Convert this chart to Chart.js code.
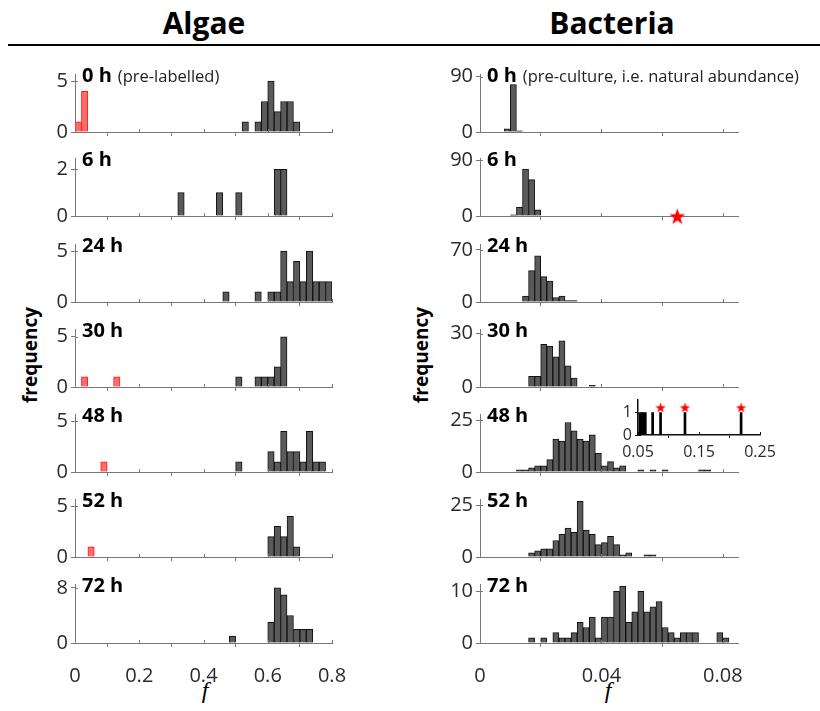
<!DOCTYPE html>
<html>
<head>
<meta charset="utf-8">
<script src="https://cdn.jsdelivr.net/npm/chart.js@4"></script>
<style>
  body { margin:0; width:820px; height:711px; position:relative; overflow:hidden; background:#fff; font-family:'Open Sans', sans-serif; }
  canvas { position:absolute; }
  .txt { position:absolute; transform:translate(-50%,-50%); white-space:nowrap; color:#000; }
</style>
</head>
<body>
<div class="txt" style="left:204px;top:22px;font:bold 30px 'Open Sans';">Algae</div>
<div class="txt" style="left:612px;top:22px;font:bold 30px 'Open Sans';">Bacteria</div>
<div style="position:absolute;left:8px;top:44px;width:812px;height:2px;background:#000;"></div>
<div class="txt" style="left:30px;top:355px;font:bold 19px 'Open Sans';transform:translate(-50%,-50%) rotate(-90deg);">frequency</div>
<div class="txt" style="left:421px;top:355px;font:bold 19px 'Open Sans';transform:translate(-50%,-50%) rotate(-90deg);">frequency</div>
<div class="txt" style="left:205px;top:690px;font:italic 24px 'Liberation Serif';">f</div>
<div class="txt" style="left:608px;top:690px;font:italic 24px 'Liberation Serif';">f</div>
<script>
// ---- data ----
const hours = ['0 h', '6 h', '24 h', '30 h', '48 h', '52 h', '72 h'];
const algaeNotes = ['(pre-labelled)', '', '', '', '', '', ''];
const bacteriaNotes = ['(pre-culture, i.e. natural abundance)', '', '', '', '', '', ''];

// algae: bin width 0.02, counts start at the given bin edge
const algaeBin = 0.02;
const algaeGrayStart = [0.52, 0.32, 0.46, 0.50, 0.50, 0.60, 0.48];
const algaeGrayCounts = [
  [1,0,1,3,5,2,3,3,1],
  [1,0,0,0,0,0,1,0,0,1,0,0,0,0,0,2,2],
  [1,0,0,0,0,1,0,1,1,5,2,4,2,5,2,2,2],
  [1,0,0,1,1,1,2,5],
  [1,0,0,0,0,2,1,4,2,2,1,4,1,1],
  [2,3,2,4,1],
  [1,0,0,0,0,0,3,8,7,4,2,2,2]
];
const algaeRedStart = [0, 0, 0, 0.02, 0.08, 0.04, 0];
const algaeRedCounts = [[1,4], [], [], [1,0,0,0,0,1], [1], [1], []];
const algaeTopTick = [5, 2, 5, 5, 5, 5, 8];
const algaeYMax = [5.7, 2.48, 5.69, 5.77, 5.69, 5.69, 8.57];
const algaeTicks = [0, 0.2, 0.4, 0.6, 0.8];
const algaeTickLabels = ['0', '0.2', '0.4', '0.6', '0.8'];

// bacteria: bin width 0.002
const bacteriaBin = 0.002;
const bacteriaStart = [0.008, 0.010, 0.014, 0.016, 0.012, 0.016, 0.016];
const bacteriaCounts = [
  [5,77,2],
  [2,14,76,59,10],
  [8,42,62,34,28,6,8,2,2],
  [6,6,24,23,17,26,12,5,0,0,1],
  [1,1,2,3,3,6,16,15,24,20,16,15,18,9,3,5,2,3,0,0,1,0,1,0,1,0,0,0,0,0,1,1],
  [2,3,4,4,8,11,14,12,27,13,11,6,7,10,6,1,2,0,0,1,1],
  [1,0,1,0,2,1,1,2,4,3,5,1,5,5,10,11,4,6,10,6,7,8,3,2,1,2,2,2,0,0,0,2,1]
];
const bacteriaStars = [[], [0.065], [], [], [], [], []];
const bacteriaTopTick = [90, 90, 70, 30, 25, 25, 10];
const bacteriaYMax = [94.2, 94, 77.8, 32.7, 28.1, 28.1, 11.4];
const bacteriaTicks = [0, 0.04, 0.08];
const bacteriaTickLabels = ['0', '0.04', '0.08'];

// inset in the 48 h bacteria panel
const insetX = [0.053, 0.056, 0.059, 0.062, 0.074, 0.087, 0.127, 0.219];
const insetCounts = [1, 1, 1, 1, 1, 1, 1, 1];
const insetStarX = [0.087, 0.127, 0.219];
const insetTicks = [0.05, 0.15, 0.25];
const insetTickLabels = ['0.05', '0.15', '0.25'];

// ---- layout ----
const panelBase = [133, 217, 303, 388, 473, 558, 643];
const plotH = 60, padTop = 14;
const axisGray = '#777';
const tickFont = { family: "'Open Sans', sans-serif", size: 20 };

Chart.defaults.font.family = "'Open Sans', sans-serif";
Chart.defaults.animation = false;

function starImage(size) {
  const c = document.createElement('canvas');
  c.width = c.height = size;
  const g = c.getContext('2d');
  g.fillStyle = '#ff0000';
  g.beginPath();
  for (let i = 0; i < 10; i++) {
    const r = i % 2 ? size * 0.2 : size * 0.5;
    const a = -Math.PI / 2 + i * Math.PI / 5;
    g.lineTo(size / 2 + r * Math.cos(a), size / 2 + 1 + r * Math.sin(a));
  }
  g.closePath();
  g.fill();
  return c;
}

function binPoints(start, counts, w) {
  return counts.map((n, i) => ({ x: start + (i + 0.5) * w, y: n }));
}

const panelDecor = {
  id: 'panelDecor',
  afterDraw(chart, args, o) {
    const { ctx, chartArea, scales } = chart;
    ctx.save();
    // short inner tick marks so ticks cross the axes
    ctx.strokeStyle = o.axisColor || axisGray;
    ctx.lineWidth = 1;
    ctx.beginPath();
    scales.x.ticks.forEach(t => {
      const px = Math.round(scales.x.getPixelForValue(t.value)) + 0.5;
      ctx.moveTo(px, chartArea.bottom); ctx.lineTo(px, chartArea.bottom - 3);
    });
    scales.y.ticks.forEach(t => {
      const py = Math.round(scales.y.getPixelForValue(t.value)) + 0.5;
      ctx.moveTo(chartArea.left, py); ctx.lineTo(chartArea.left + 3, py);
    });
    ctx.stroke();
    if (o.text) {
      const x = chartArea.left + 7, y = chartArea.top + 8;
      ctx.fillStyle = '#000';
      ctx.font = "bold 20px 'Open Sans'";
      ctx.fillText(o.text, x, y);
      if (o.note) {
        const w = ctx.measureText(o.text).width;
        ctx.font = "16.5px 'Open Sans'";
        ctx.fillStyle = '#222';
        ctx.fillText(o.note, x + w + 6, y);
      }
    }
    ctx.restore();
  }
};

function makePanel(p) {
  const c = document.createElement('canvas');
  c.width = p.width; c.height = p.height;
  c.style.left = p.left + 'px'; c.style.top = p.top + 'px';
  document.body.appendChild(c);
  new Chart(c, {
    type: 'bar',
    data: { datasets: p.datasets },
    plugins: [panelDecor],
    options: {
      responsive: false,
      devicePixelRatio: 1,
      layout: { padding: { top: p.padTop, right: p.padRight, left: 0, bottom: 0 } },
      plugins: {
        legend: { display: false },
        tooltip: { enabled: false },
        panelDecor: { text: p.label, note: p.note, axisColor: p.axisColor }
      },
      scales: {
        x: {
          type: 'linear', min: p.xMin, max: p.xMax, offset: false,
          afterBuildTicks: s => { s.ticks = p.xTicks.map(v => ({ value: v })); },
          ticks: {
            display: p.showX, autoSkip: false, maxRotation: 0,
            padding: p.xPad, font: p.font, color: '#2a2a2a',
            callback: (v, i) => p.xLabels[i]
          },
          grid: { drawOnChartArea: false, tickLength: p.tickLen, color: p.axisColor },
          border: { color: p.axisColor, width: p.axisWidth },
          afterFit: s => { s.height = p.xHeight; }
        },
        y: {
          min: 0, max: p.yMax,
          afterBuildTicks: s => { s.ticks = p.yTicks.map(v => ({ value: v })); },
          ticks: { padding: 3, font: p.font, color: '#2a2a2a', callback: v => String(v) },
          grid: { drawOnChartArea: false, tickLength: p.tickLen, color: p.axisColor },
          border: { color: p.axisColor, width: p.axisWidth },
          afterFit: s => { s.width = p.yWidth; }
        }
      }
    }
  });
}

const bigStar = starImage(17);
const smallStar = starImage(11);

function histSet(points, fill, edge) {
  return {
    data: points, backgroundColor: fill, borderColor: edge, borderWidth: 1,
    borderSkipped: 'start', grouped: false, barPercentage: 1, categoryPercentage: 1
  };
}

for (let k = 0; k < hours.length; k++) {
  const bottom = k === hours.length - 1;
  const xHeight = bottom ? 50 : 14;
  const common = {
    top: panelBase[k] - plotH - padTop,
    height: padTop + plotH + xHeight,
    padTop: padTop, xHeight: xHeight, showX: bottom, xPad: 17,
    tickLen: 4, yWidth: 40, font: tickFont, axisColor: axisGray, axisWidth: 1,
    label: hours[k], xMin: 0
  };

  // algae column (plot area 75..332)
  const aSets = [histSet(binPoints(algaeGrayStart[k], algaeGrayCounts[k], algaeBin), '#5a5a5a', '#111')];
  if (algaeRedCounts[k].length) {
    aSets.push(histSet(binPoints(algaeRedStart[k], algaeRedCounts[k], algaeBin), '#ff6b6b', '#ff1a1a'));
  }
  makePanel(Object.assign({}, common, {
    left: 35, width: 340, padRight: 43, note: algaeNotes[k],
    xMax: 0.8, xTicks: algaeTicks, xLabels: algaeTickLabels,
    yMax: algaeYMax[k], yTicks: [0, algaeTopTick[k]], datasets: aSets
  }));

  // bacteria column (plot area 480..738)
  const bSets = [histSet(binPoints(bacteriaStart[k], bacteriaCounts[k], bacteriaBin), '#5a5a5a', '#111')];
  if (bacteriaStars[k].length) {
    bSets.push({
      type: 'scatter', data: bacteriaStars[k].map(x => ({ x: x, y: 0 })),
      pointStyle: bigStar, pointRadius: 9, clip: false
    });
  }
  makePanel(Object.assign({}, common, {
    left: 440, width: 375, padRight: 77, note: bacteriaNotes[k],
    xMax: 0.085, xTicks: bacteriaTicks, xLabels: bacteriaTickLabels,
    yMax: bacteriaYMax[k], yTicks: [0, bacteriaTopTick[k]], datasets: bSets
  }));
}

// inset (plot area 638..760)
makePanel({
  left: 600, top: 387, width: 190, height: 80,
  padTop: 10, padRight: 30, xHeight: 32, showX: true, xPad: 5,
  tickLen: 3, yWidth: 38, font: { family: "'Open Sans', sans-serif", size: 16 },
  axisColor: '#111', axisWidth: 1.5, label: '',
  xMin: 0.05, xMax: 0.25, xTicks: insetTicks, xLabels: insetTickLabels,
  yMax: 1.58, yTicks: [0, 1],
  datasets: [
    { data: insetX.map((x, i) => ({ x: x, y: insetCounts[i] })),
      backgroundColor: '#000', borderWidth: 0, barThickness: 2, grouped: false },
    { type: 'scatter', data: insetStarX.map(x => ({ x: x, y: 1.25 })),
      pointStyle: smallStar, pointRadius: 6, clip: false }
  ]
});
</script>
</body>
</html>
